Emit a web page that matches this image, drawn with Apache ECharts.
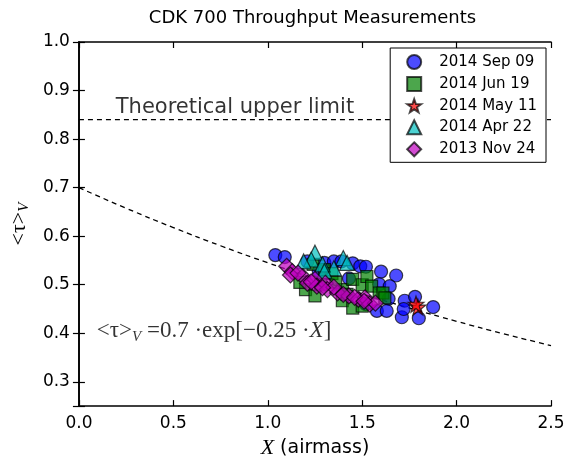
<!DOCTYPE html>
<html><head><meta charset="utf-8">
<script src="https://cdn.jsdelivr.net/npm/echarts@6/dist/echarts.min.js"></script>
<style>html,body{margin:0;padding:0;background:#fff}#c{width:568px;height:464px}</style>
</head><body><div id="c"></div>
<script>
const seriesNames = ['2014 Sep 09','2014 Jun 19','2014 May 11','2014 Apr 22','2013 Nov 24'];
const xTicks = [0.0,0.5,1.0,1.5,2.0,2.5];
const yTicks = [0.3,0.4,0.5,0.6,0.7,0.8,0.9,1.0];
const sep09 = [[1.04,0.561],[1.09,0.557],[1.21,0.548],[1.30,0.545],[1.35,0.548],[1.39,0.548],[1.45,0.544],[1.49,0.538],[1.52,0.537],[1.60,0.527],[1.68,0.519],[1.43,0.513],[1.59,0.501],[1.646,0.497],[1.64,0.471],[1.725,0.467],[1.78,0.475],[1.876,0.454],[1.578,0.446],[1.63,0.446],[1.71,0.433],[1.80,0.431],[1.72,0.45],[1.52,0.46],[1.27,0.528]];
const jun19 = [[1.20,0.49],[1.25,0.477],[1.24,0.542],[1.30,0.531],[1.34,0.523],[1.395,0.49],[1.395,0.467],[1.45,0.511],[1.50,0.50],[1.525,0.517],[1.55,0.497],[1.59,0.483],[1.61,0.483],[1.62,0.473],[1.45,0.452],[1.50,0.456],[1.17,0.505],[1.28,0.50],[1.36,0.505],[1.42,0.48]];
const may11 = [[1.795,0.454],[1.785,0.46]];
const apr22 = [[1.25,0.566],[1.40,0.555],[1.35,0.534],[1.23,0.552],[1.29,0.542],[1.19,0.548],[1.42,0.545],[1.30,0.528]];
const nov24 = [[1.10,0.538],[1.13,0.527],[1.185,0.517],[1.21,0.503],[1.25,0.511],[1.26,0.497],[1.305,0.503],[1.316,0.49],[1.37,0.483],[1.43,0.477],[1.48,0.47],[1.515,0.473],[1.54,0.46],[1.57,0.462],[1.12,0.52],[1.35,0.495],[1.16,0.524],[1.23,0.506],[1.29,0.494],[1.40,0.48],[1.46,0.474],[1.51,0.466]];
const upperLimit = [[0,0.84],[2.5,0.84]];
const modelCurve = [[0,0.700],[0.25,0.6576],[0.5,0.6177],[0.75,0.5803],[1.0,0.5452],[1.25,0.5121],[1.5,0.4811],[1.75,0.4520],[2.0,0.4246],[2.25,0.3988],[2.5,0.3747]];
const upperLabel = [[0.195,0.866]];
const modelLabel = [[0.095,0.405]];

const starPath = 'path://M0,-10L2.35,-3.24L9.51,-3.09L3.8,1.24L5.88,8.09L0,4L-5.88,8.09L-3.8,1.24L-9.51,-3.09L-2.35,-3.24Z';
const FONT = 'DejaVu Sans';
const chart = echarts.init(document.getElementById('c'), null, {renderer:'canvas'});

function axisCommon(){
  return {
    axisLine:{show:true, lineStyle:{color:'#000', width:1.6}},
    axisTick:{show:true, inside:true, length:6, lineStyle:{color:'#000', width:1.2}},
    splitLine:{show:false},
  };
}
function scat(name, data, symbol, size, color){
  return {type:'scatter', name, data, symbol, symbolSize:size, xAxisIndex:0, yAxisIndex:0,
    itemStyle:{color, opacity:0.7, borderColor:'#000', borderWidth:1.2}, emphasis:{disabled:true}};
}
const option = {
  animation:false,
  backgroundColor:'#fff',
  grid:{left:74, right:17, top:42, bottom:50},
  graphic:[{type:'text', x:312.5, y:18, style:{text:'CDK 700 Throughput Measurements', font:'18px "DejaVu Sans"', fill:'#000', align:'center', verticalAlign:'middle'}}],
  legend:{
    data:seriesNames, orient:'vertical', right:22, top:48,
    itemWidth:14, itemHeight:14, itemGap:6, padding:[6,9,5,16], symbolKeepAspect:true,
    backgroundColor:'#fff', borderColor:'#000', borderWidth:1, borderRadius:0,
    textStyle:{fontFamily:FONT, fontSize:15, color:'#000', lineHeight:15, padding:[0,0,0,13]},
    selectedMode:false
  },
  xAxis:[
    Object.assign({type:'value', min:0, max:2.5, interval:0.5, position:'bottom',
      name:'{i|X}{t| (airmass)}', nameLocation:'middle', nameGap:30,
      nameTextStyle:{rich:{i:{fontFamily:'Liberation Serif', fontStyle:'italic', fontSize:22, color:'#000'}, t:{fontFamily:FONT, fontSize:19, color:'#000'}}},
      axisLabel:{show:true, color:'#000', fontFamily:FONT, fontSize:17, margin:9, formatter:v=>v.toFixed(1), customValues:xTicks},
    }, axisCommon()),
    Object.assign({type:'value', min:0, max:2.5, interval:0.5, position:'top', axisLabel:{show:false}}, axisCommon())
  ],
  yAxis:[
    Object.assign({type:'value', min:0.25, max:1.0, position:'left',
      name:'{a|<τ>}{b|V}', nameLocation:'middle', nameGap:44, nameRotate:90,
      nameTextStyle:{rich:{a:{fontFamily:'Liberation Serif', fontSize:22, color:'#000', lineHeight:26}, b:{fontFamily:'Liberation Serif', fontStyle:'italic', fontSize:15, color:'#000', verticalAlign:'bottom', lineHeight:14}}},
      axisLabel:{show:true, color:'#000', fontFamily:FONT, fontSize:17, margin:9, formatter:v=>v.toFixed(1), customValues:yTicks},
    }, axisCommon()),
    Object.assign({type:'value', min:0.25, max:1.0, position:'right', axisLabel:{show:false}}, axisCommon())
  ],
  series:[
    {type:'line', data:upperLimit, symbol:'none', silent:true, lineStyle:{color:'#000', width:1.3, type:[5,4]}, z:1},
    {type:'line', data:modelCurve, symbol:'none', smooth:true, silent:true, lineStyle:{color:'#000', width:1.3, type:[5,4]}, z:1},
    scat(seriesNames[0], sep09, 'circle', 13, '#0000ff'),
    scat(seriesNames[1], jun19, 'rect', 12, '#008000'),
    scat(seriesNames[2], may11, starPath, 16, '#ff0000'),
    scat(seriesNames[3], apr22, 'triangle', 15, '#00bfbf'),
    scat(seriesNames[4], nov24, 'diamond', 16, '#bf00bf'),
    {type:'scatter', data:upperLabel, symbolSize:0, silent:true,
      label:{show:true, position:'right', distance:0, formatter:'Theoretical upper limit', fontFamily:FONT, fontSize:21, color:'#000'}},
    {type:'scatter', data:modelLabel, symbolSize:0, silent:true,
      label:{show:true, position:'right', distance:0,
        formatter:'{m|<τ>}{s|V}{m| =0.7 ·exp[−0.25 ·}{i|X}{m|]}',
        rich:{m:{fontFamily:'Liberation Serif', fontSize:23, color:'#000', lineHeight:28}, s:{fontFamily:'Liberation Serif', fontStyle:'italic', fontSize:15, color:'#000', verticalAlign:'bottom', lineHeight:14}, i:{fontFamily:'Liberation Serif', fontStyle:'italic', fontSize:23, color:'#000', lineHeight:28}}}}
  ]
};
chart.setOption(option);
</script></body></html>
